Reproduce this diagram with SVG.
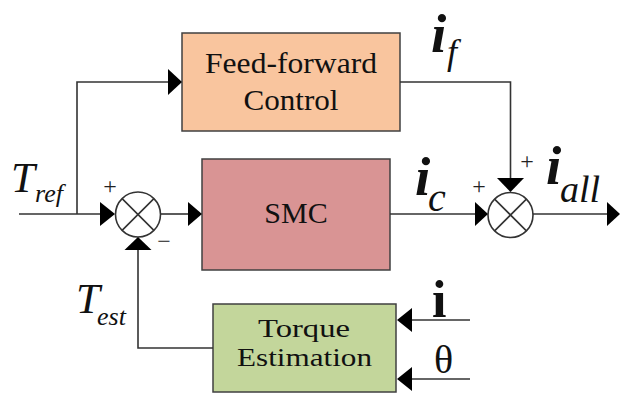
<svg xmlns="http://www.w3.org/2000/svg" width="623" height="396" viewBox="0 0 623 396">
<style>
.box{stroke:#404040;stroke-width:1.5}
.ln{fill:none;stroke:#333;stroke-width:1.6}
.ah{fill:#000}
text{font-family:'Liberation Serif','Times New Roman',serif;fill:#111}
.bt{font-size:29px;text-anchor:middle}
.bi{font-weight:bold;font-style:italic;font-size:55px}
.it{font-style:italic}
.pm{font-size:24px;fill:#222;text-anchor:middle}
</style>
<rect width="623" height="396" fill="#fff"/>
<g id="ff">
<rect class="box" x="182" y="33" width="218" height="98" fill="#F9C59E"/>
<text class="bt" x="291" y="73" textLength="172" lengthAdjust="spacingAndGlyphs">Feed-forward</text>
<text class="bt" x="291" y="110" textLength="95" lengthAdjust="spacingAndGlyphs">Control</text>
</g>
<g id="smc">
<rect class="box" x="202" y="159" width="188" height="111" fill="#D99494"/>
<text class="bt" x="296" y="223" style="font-size:30px">SMC</text>
</g>
<g id="te">
<rect class="box" x="213" y="304" width="183" height="88" fill="#C3D69B"/>
<text class="bt" x="304" y="337" textLength="92" lengthAdjust="spacingAndGlyphs" style="font-size:26px">Torque</text>
<text class="bt" x="304.5" y="366" textLength="135" lengthAdjust="spacingAndGlyphs" style="font-size:26px">Estimation</text>
</g>
<g id="sum1">
<circle class="ln" cx="138" cy="214.5" r="22.5"/>
<path class="ln" d="M122.1,198.6 L153.9,230.4 M153.9,198.6 L122.1,230.4"/>
<text class="pm" x="110" y="194">+</text>
<text class="pm" x="164" y="249">−</text>
</g>
<g id="sum2">
<circle class="ln" cx="510.5" cy="215" r="22.5"/>
<path class="ln" d="M494.6,199.1 L526.4,230.9 M526.4,199.1 L494.6,230.9"/>
<text class="pm" x="479" y="194">+</text>
<text class="pm" x="527" y="169">+</text>
</g>
<g id="connectors">
<path class="ln" d="M19,214 H101 M77,214 V82 H169"/>
<polygon class="ah" points="100,202 115,214 100,226"/>
<polygon class="ah" points="168,69 182,82 168,95"/>
<path class="ln" d="M160.5,214 H189"/>
<polygon class="ah" points="188,202 202,214 188,226"/>
<path class="ln" d="M390,214 H476"/>
<polygon class="ah" points="475,202 488,214 475,226"/>
<path class="ln" d="M400,82 H510.5 V179"/>
<polygon class="ah" points="497,178 524,178 510.5,192"/>
<path class="ln" d="M533,214 H608"/>
<polygon class="ah" points="607,202 620,214 607,226"/>
<path class="ln" d="M213,348 H138 V249"/>
<polygon class="ah" points="124.5,250 151.5,250 138,237"/>
<path class="ln" d="M470,320 H411"/>
<polygon class="ah" points="412,308 397,320 412,332"/>
<path class="ln" d="M470,379 H411"/>
<polygon class="ah" points="412,367 397,379 412,391"/>
</g>
<g id="labels">
<text class="it" x="11" y="192" style="font-size:43px">T</text>
<text class="it" x="35" y="202" style="font-size:26px">ref</text>
<text class="it" x="76" y="313" style="font-size:43px">T</text>
<text class="it" x="97" y="325" style="font-size:26px">est</text>
<text class="bi" x="431" y="52">i</text>
<text class="it" x="447" y="64" style="font-size:36px">f</text>
<text class="bi" x="415" y="195">i</text>
<text class="it" x="428" y="211" style="font-size:40px">c</text>
<text class="bi" x="546" y="184">i</text>
<text class="it" x="560" y="202" style="font-size:38px">all</text>
<text x="432" y="317" style="font-size:52px;font-weight:bold">i</text>
<text x="434" y="373" style="font-size:40px">θ</text>
</g>
</svg>
